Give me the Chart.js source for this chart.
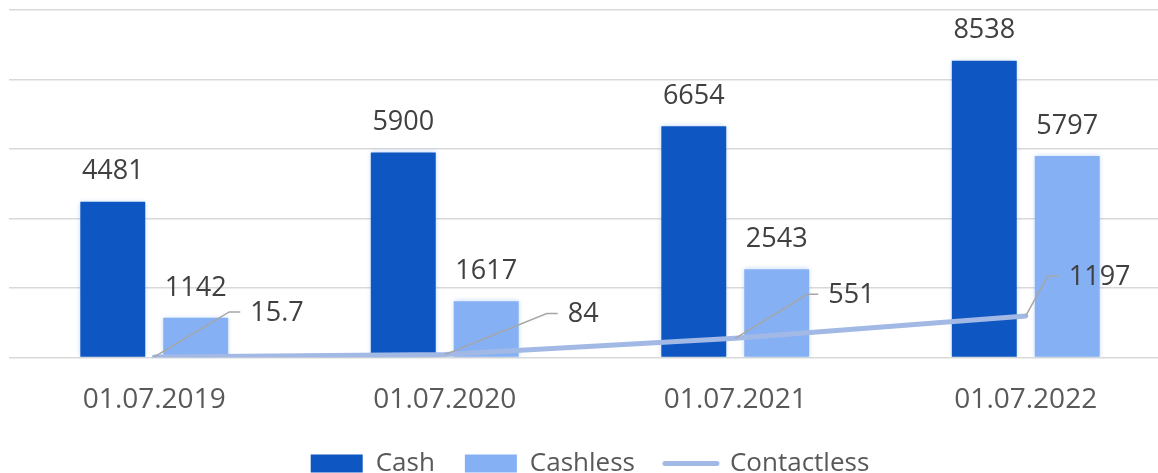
<!DOCTYPE html>
<html>
<head>
<meta charset="utf-8">
<script src="https://cdn.jsdelivr.net/npm/chart.js@4/dist/chart.umd.min.js"></script>
<style>
  html, body { margin: 0; padding: 0; background: #fff; overflow: hidden; }
  #wrap { width: 1180px; height: 473px; }
</style>
</head>
<body>
<div id="wrap"><canvas id="c" width="1180" height="473"></canvas></div>
<script>
const categories = ["01.07.2019", "01.07.2020", "01.07.2021", "01.07.2022"];
const cashValues = [4481, 5900, 6654, 8538];
const cashlessValues = [1142, 1617, 2543, 5797];
const contactlessValues = [15.7, 84, 551, 1197];
const yTicks = [0, 2000, 4000, 6000, 8000, 10000];

// callout leader elbow offsets for the line labels (style only)
const calloutOffsets = [[75, -45], [102, -41], [72, -44], [22, -40]];

const FONT = "'Open Sans', 'Liberation Sans', sans-serif";

const glowPlugin = {
  id: 'barGlow',
  beforeDatasetDraw(chart, args) {
    const ds = chart.data.datasets[args.index];
    if (ds.type === 'bar') {
      chart.ctx.save();
      chart.ctx.shadowColor = 'rgba(110,160,235,0.45)';
      chart.ctx.shadowBlur = 5;
    }
  },
  afterDatasetDraw(chart, args) {
    const ds = chart.data.datasets[args.index];
    if (ds.type === 'bar') chart.ctx.restore();
  }
};

const labelPlugin = {
  id: 'valueLabels',
  afterDatasetsDraw(chart) {
    const ctx = chart.ctx;
    ctx.save();
    ctx.font = "27px " + FONT;
    ctx.fillStyle = '#404040';
    chart.data.datasets.forEach((ds, di) => {
      const meta = chart.getDatasetMeta(di);
      if (ds.type === 'line') {
        meta.data.forEach((el, i) => {
          const off = calloutOffsets[i];
          const ex = el.x + off[0], ey = el.y + off[1];
          ctx.strokeStyle = '#A6A6A6';
          ctx.lineWidth = 1.5;
          ctx.beginPath();
          ctx.moveTo(el.x, el.y);
          ctx.lineTo(ex, ey);
          ctx.lineTo(ex + 11, ey);
          ctx.stroke();
          ctx.textAlign = 'left';
          ctx.textBaseline = 'middle';
          ctx.fillText(String(ds.data[i]), ex + 21, ey + 1);
        });
      } else {
        meta.data.forEach((el, i) => {
          ctx.textAlign = 'center';
          ctx.textBaseline = 'middle';
          ctx.fillText(String(ds.data[i]), el.x, el.y - 30);
        });
      }
    });
    ctx.restore();
  }
};

new Chart(document.getElementById('c'), {
  data: {
    labels: categories,
    datasets: [
      {
        type: 'bar', label: 'Cash', data: cashValues,
        backgroundColor: '#0E57C2', order: 2,
        categoryPercentage: 0.571, barPercentage: 0.783
      },
      {
        type: 'bar', label: 'Cashless', data: cashlessValues,
        backgroundColor: '#86B0F4', order: 2,
        categoryPercentage: 0.571, barPercentage: 0.783
      },
      {
        type: 'line', label: 'Contactless', data: contactlessValues,
        borderColor: '#A2B9E6', backgroundColor: '#A2B9E6',
        borderWidth: 5, pointRadius: 0, tension: 0, order: 0,
        borderCapStyle: 'round'
      }
    ]
  },
  options: {
    responsive: false,
    animation: false,
    devicePixelRatio: 1,
    layout: { padding: { left: 9, right: 9, top: 10, bottom: -13.5 } },
    scales: {
      x: {
        type: 'category', offset: true,
        grid: { display: false, drawTicks: false },
        border: { display: false },
        ticks: { font: { family: FONT, size: 28 }, color: '#595959', padding: 26 },
        afterFit(scale) { scale.height = 63; }
      },
      y: {
        min: 0, max: 10000,
        afterBuildTicks(scale) { scale.ticks = yTicks.map(v => ({ value: v })); },
        ticks: { display: false },
        grid: { color: '#D9D9D9', lineWidth: 1.5, drawTicks: false },
        border: { display: false }
      }
    },
    plugins: {
      tooltip: { enabled: false },
      legend: {
        position: 'bottom',
        labels: {
          usePointStyle: true,
          pointStyleWidth: 52,
          boxHeight: 18,
          padding: 30,
          color: '#595959',
          font: { family: FONT, size: 26 },
          sort: (a, b) => a.datasetIndex - b.datasetIndex,
          generateLabels(chart) {
            const items = Chart.defaults.plugins.legend.labels.generateLabels(chart);
            items.forEach(it => {
              const ds = chart.data.datasets[it.datasetIndex];
              if (ds.type === 'line') {
                it.pointStyle = 'line';
                it.lineWidth = 5;
                it.strokeStyle = ds.borderColor;
                it.lineCap = 'round';
              } else {
                it.pointStyle = 'rect';
                it.lineWidth = 0;
                it.fillStyle = ds.backgroundColor;
              }
            });
            return items;
          }
        }
      }
    }
  },
  plugins: [glowPlugin, labelPlugin]
});
</script>
</body>
</html>
